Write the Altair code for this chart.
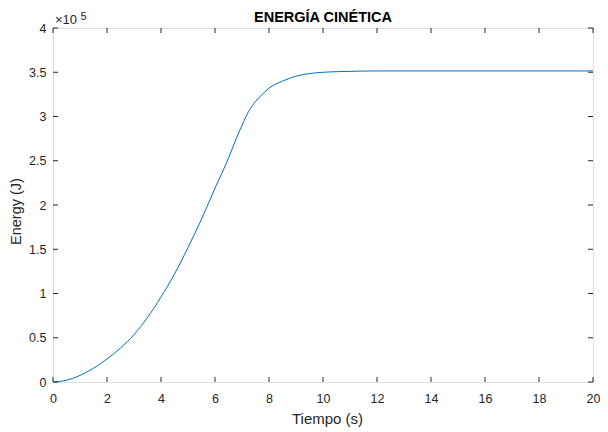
import altair as alt
import pandas as pd

# Data (time in s, kinetic energy in J)
tiempo = [0, 0.5, 1, 1.5, 2, 2.5, 3, 3.5, 4, 4.5, 5, 5.5, 6, 6.5, 6.8, 7,
          7.25, 7.5, 7.75, 8, 8.5, 9, 9.5, 10, 11, 12, 13, 14, 16, 18, 20]
energia = [0, 2000, 7500, 15500, 26000, 38500, 53500, 73000, 96000, 122000,
           152000, 184000, 219000, 253000, 276000, 290000, 306000, 317000,
           325000, 332000, 340000, 345500, 348500, 350000, 351000, 351500,
           351500, 351500, 351500, 351500, 351500]

x_ticks = [0, 2, 4, 6, 8, 10, 12, 14, 16, 18, 20]
y_ticks = [0, 50000, 100000, 150000, 200000, 250000, 300000, 350000, 400000]
titulo = "ENERGÍA CINÉTICA"

W, H = 540, 354
AXC = "#262626"
FONT = "Liberation Sans"

df = pd.DataFrame({"t": tiempo, "E": energia})
xt = pd.DataFrame({"v": x_ticks})
yt = pd.DataFrame({"v": y_ticks})

xscale = alt.Scale(domain=[0, 20], nice=False, zero=False)
yscale = alt.Scale(domain=[0, 400000], nice=False, zero=False)

line = alt.Chart(df).mark_line(color="#0072BD", strokeWidth=1, interpolate="monotone").encode(
    x=alt.X("t:Q", scale=xscale,
            axis=alt.Axis(values=x_ticks, title="Tiempo (s)", grid=False, domain=False,
                          tickSize=0, labelPadding=10.5, labelFontSize=12.5, labelColor=AXC,
                          labelFont=FONT, labelFlush=False, titleFont=FONT, titleFontSize=15,
                          titleFontWeight="normal", titleColor=AXC,
                          titleBaseline="alphabetic", titleY=41, titleX=274)),
    y=alt.Y("E:Q", scale=yscale,
            axis=alt.Axis(values=y_ticks, title="Energy (J)", grid=False, domain=False,
                          tickSize=0, labelPadding=7, labelFontSize=12.5, labelColor=AXC,
                          labelFont=FONT, labelFlush=False,
                          labelExpr="datum.value / 100000",
                          titleFont=FONT, titleFontSize=14.5, titleFontWeight="normal",
                          titleColor=AXC, titleBaseline="alphabetic", titleX=-33,
                          titleY=183, titleAngle=-90)),
)

tick_x_bottom = alt.Chart(xt).mark_rule(color=AXC, strokeWidth=1).encode(
    x=alt.X("v:Q", scale=xscale), y=alt.value(H), y2=alt.value(H - 5))
tick_x_top = alt.Chart(xt).mark_rule(color=AXC, strokeWidth=1).encode(
    x=alt.X("v:Q", scale=xscale), y=alt.value(0), y2=alt.value(5))
tick_y_left = alt.Chart(yt).mark_rule(color=AXC, strokeWidth=1).encode(
    y=alt.Y("v:Q", scale=yscale), x=alt.value(0), x2=alt.value(5))
tick_y_right = alt.Chart(yt).mark_rule(color=AXC, strokeWidth=1).encode(
    y=alt.Y("v:Q", scale=yscale), x=alt.value(W), x2=alt.value(W - 5))

exp_base = alt.Chart(pd.DataFrame({"s": ["×10"]})).mark_text(
    align="left", baseline="alphabetic", fontSize=13, font=FONT, color=AXC).encode(
    x=alt.value(2), y=alt.value(-4), text="s:N")
exp_pow = alt.Chart(pd.DataFrame({"s": ["5"]})).mark_text(
    align="left", baseline="alphabetic", fontSize=11, font=FONT, color=AXC).encode(
    x=alt.value(27.5), y=alt.value(-8), text="s:N")

title_mark = alt.Chart(pd.DataFrame({"s": [titulo]})).mark_text(
    align="center", baseline="alphabetic", fontSize=14.5, font=FONT, fontWeight="bold",
    color="#000000").encode(x=alt.value(W / 2), y=alt.value(-6.5), text="s:N")

chart = alt.layer(line, tick_x_bottom, tick_x_top, tick_y_left, tick_y_right,
                  exp_base, exp_pow, title_mark).properties(
    width=W, height=H,
    autosize=alt.AutoSizeParams(type="none"),
    padding={"left": 45, "top": 20, "right": 7, "bottom": 48},
).configure_view(stroke=AXC, strokeWidth=1).configure(background="white")

chart.save("out.html", embed_options={"renderer": "svg", "actions": False})
